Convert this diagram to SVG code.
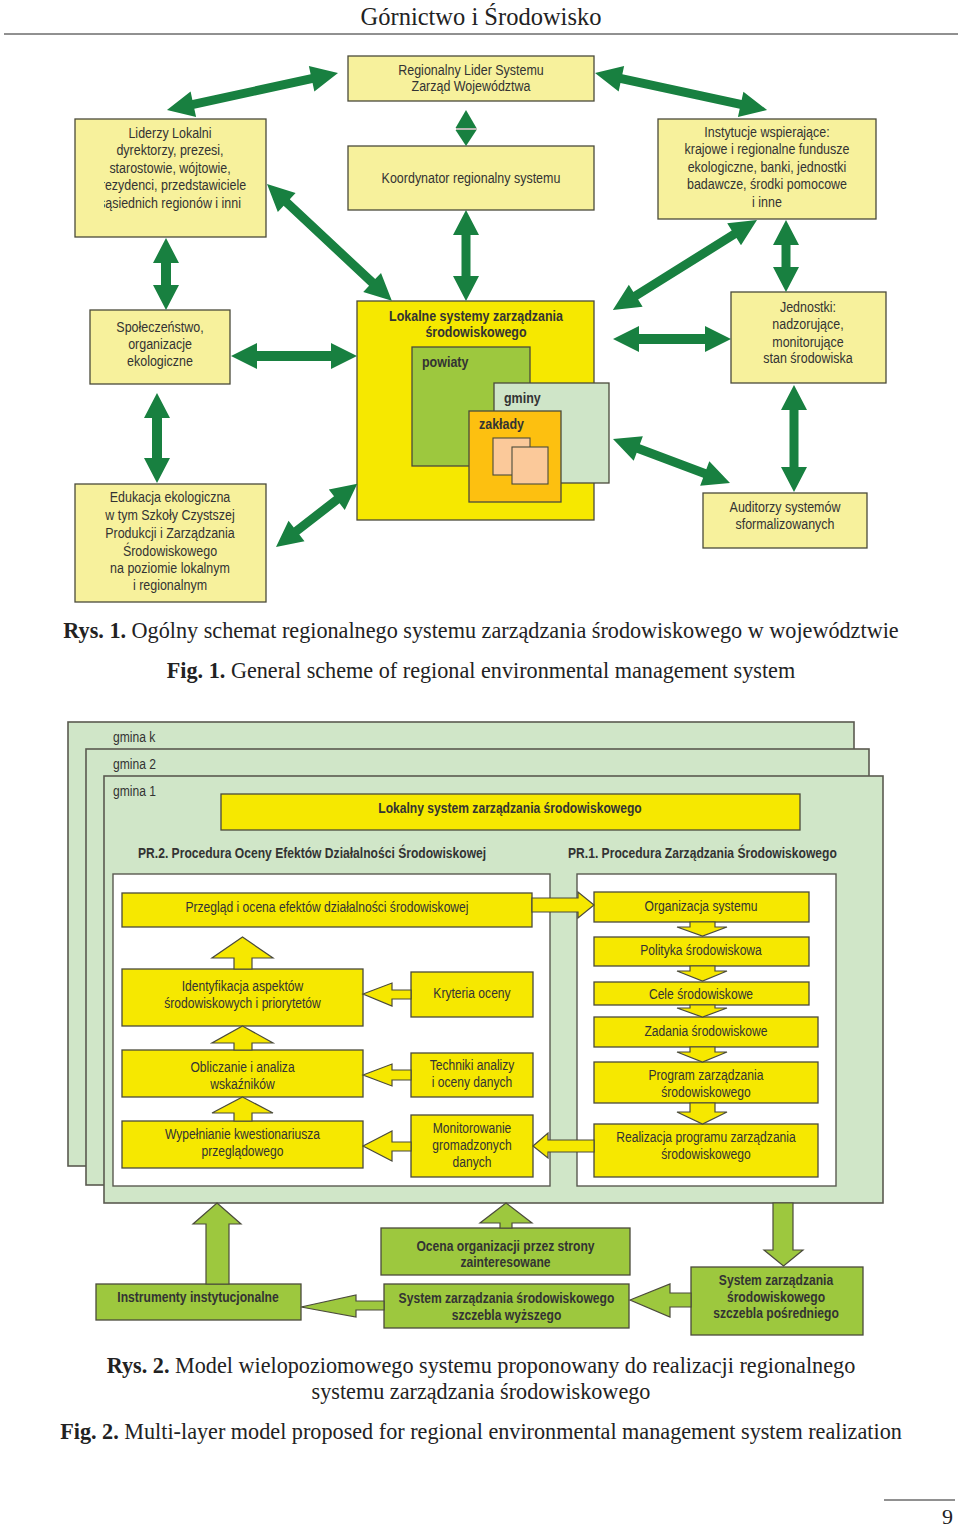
<svg xmlns="http://www.w3.org/2000/svg" width="960" height="1526" viewBox="0 0 960 1526">
<style>
.b1{fill:#F7F19C;stroke:#4b4b3b;stroke-width:1.3}
.yb{fill:#F6E800;stroke:#4b4b3b;stroke-width:1.3}
.gb{fill:#9DC83E;stroke:#4b4b3b;stroke-width:1.3}
.fr{fill:#D0E6C8;stroke:#5a5a50;stroke-width:1.6}
.wp{fill:#FFFFFF;stroke:#5a5a50;stroke-width:1.4}
.t{font-family:"Liberation Sans",Arial,sans-serif;font-size:14.5px;fill:#333}
.c{text-anchor:middle}
.bd{font-weight:bold}
.cap{font-family:"Liberation Serif","Times New Roman",serif;font-size:22.2px;fill:#222}
.arr{fill:#188040}
.ya{fill:#F6E800;stroke:#4b4b3b;stroke-width:1.2}
.ga{fill:#9DC83E;stroke:#4b4b3b;stroke-width:1.2}
</style>
<defs>
<clipPath id="clipLid"><rect x="104" y="119" width="160" height="118"/></clipPath>
</defs>
<rect width="960" height="1526" fill="#FFFFFF"/>
<text class="cap c" x="481" y="25" style="font-size:24.5px">Górnictwo i Środowisko</text>
<line x1="4" y1="34" x2="958" y2="34" stroke="#222" stroke-width="1"/>

<!-- Figure 1 nodes -->
<g id="lokalne">
<rect class="yb" x="357" y="301" width="237" height="219"/>
<g transform="matrix(0.86,0,0,1,66.64,0)">
<text class="t c bd" x="476" y="321">Lokalne systemy zarządzania</text>
<text class="t c bd" x="476" y="337">środowiskowego</text>
</g>
</g>
<g id="powiaty">
<rect x="412" y="347" width="118" height="119" fill="#9DC83E" stroke="#4b4b3b" stroke-width="1.3"/>
<text class="t bd" x="422" y="367" transform="matrix(0.86,0,0,1,59.08,0)">powiaty</text>
</g>
<g id="gminy">
<rect x="494" y="383" width="115" height="100" fill="#CFE5C8" stroke="#4b4b3b" stroke-width="1.3"/>
<text class="t bd" x="504" y="403" transform="matrix(0.86,0,0,1,70.56,0)">gminy</text>
</g>
<g id="zaklady">
<rect x="469" y="411" width="92" height="91" fill="#FDC010" stroke="#4b4b3b" stroke-width="1.3"/>
<text class="t bd" x="479" y="429" transform="matrix(0.86,0,0,1,67.06,0)">zakłady</text>
<rect x="493" y="438" width="37" height="37" fill="#FBC99A" stroke="#4b4b3b" stroke-width="1.1"/>
<rect x="512" y="447" width="36" height="37" fill="#FBC99A" stroke="#4b4b3b" stroke-width="1.1"/>
</g>
<g id="regionalny">
<rect class="b1" x="348" y="56" width="246" height="45"/>
<g transform="matrix(0.86,0,0,1,65.94,0)">
<text class="t c" x="471" y="75">Regionalny Lider Systemu</text>
<text class="t c" x="471" y="91">Zarząd Województwa</text>
</g>
</g>
<g id="liderzy">
<rect class="b1" x="75" y="119" width="191" height="118"/>
<g clip-path="url(#clipLid)">
<g transform="matrix(0.86,0,0,1,23.8,0)">
<text class="t c" x="170" y="138">Liderzy Lokalni</text>
<text class="t c" x="170" y="155">dyrektorzy, prezesi,</text>
<text class="t c" x="170" y="173">starostowie, wójtowie,</text>
<text class="t c" x="170" y="190">prezydenci, przedstawiciele</text>
<text class="t c" x="170" y="208">sąsiednich regionów i inni</text>
</g>
</g>
</g>
<g id="koordynator">
<rect class="b1" x="348" y="146" width="246" height="64"/>
<text class="t c" x="471" y="183" transform="matrix(0.86,0,0,1,65.94,0)">Koordynator regionalny systemu</text>
</g>
<g id="instytucje">
<rect class="b1" x="658" y="119" width="218" height="100"/>
<g transform="matrix(0.86,0,0,1,107.38,0)">
<text class="t c" x="767" y="137">Instytucje wspierające:</text>
<text class="t c" x="767" y="154">krajowe i regionalne fundusze</text>
<text class="t c" x="767" y="172">ekologiczne, banki, jednostki</text>
<text class="t c" x="767" y="189">badawcze, środki pomocowe</text>
<text class="t c" x="767" y="207">i inne</text>
</g>
</g>
<g id="spoleczenstwo">
<rect class="b1" x="90" y="310" width="140" height="74"/>
<g transform="matrix(0.86,0,0,1,22.4,0)">
<text class="t c" x="160" y="332">Społeczeństwo,</text>
<text class="t c" x="160" y="349">organizacje</text>
<text class="t c" x="160" y="366">ekologiczne</text>
</g>
</g>
<g id="jednostki">
<rect class="b1" x="731" y="292" width="155" height="91"/>
<g transform="matrix(0.86,0,0,1,113.12,0)">
<text class="t c" x="808" y="312">Jednostki:</text>
<text class="t c" x="808" y="329">nadzorujące,</text>
<text class="t c" x="808" y="347">monitorujące</text>
<text class="t c" x="808" y="363">stan środowiska</text>
</g>
</g>
<g id="edukacja">
<rect class="b1" x="75" y="484" width="191" height="118"/>
<g transform="matrix(0.86,0,0,1,23.8,0)">
<text class="t c" x="170" y="502">Edukacja ekologiczna</text>
<text class="t c" x="170" y="520">w tym Szkoły Czystszej</text>
<text class="t c" x="170" y="538">Produkcji i Zarządzania</text>
<text class="t c" x="170" y="556">Środowiskowego</text>
<text class="t c" x="170" y="573">na poziomie lokalnym</text>
<text class="t c" x="170" y="590">i regionalnym</text>
</g>
</g>
<g id="auditorzy">
<rect class="b1" x="703" y="493" width="164" height="55"/>
<g transform="matrix(0.86,0,0,1,109.9,0)">
<text class="t c" x="785" y="512">Auditorzy systemów</text>
<text class="t c" x="785" y="529">sformalizowanych</text>
</g>
</g>

<!-- Figure 1 connectors -->
<g id="connectors-fig1" class="arr">
<polygon points="0,0 27,-13 27,-4.5 148,-4.5 148,-13 175,0 148,13 148,4.5 27,4.5 27,13" transform="translate(338,73) rotate(167.79)"/>
<polygon points="0,0 27,-13 27,-4.5 149,-4.5 149,-13 176,0 149,13 149,4.5 27,4.5 27,13" transform="translate(595,73) rotate(12.14)"/>
<polygon points="0,0 27,-13 27,-4.5 144,-4.5 144,-13 171,0 144,13 144,4.5 27,4.5 27,13" transform="translate(267,184) rotate(43.11)"/>
<polygon points="0,0 27,-13 27,-4.5 143,-4.5 143,-13 170,0 143,13 143,4.5 27,4.5 27,13" transform="translate(757,220) rotate(148)"/>
<polygon points="0,0 26,-13 26,-4.5 77,-4.5 77,-13 103,0 77,13 77,4.5 26,4.5 26,13" transform="translate(276,547) rotate(-37.87)"/>
<polygon points="0,0 27,-13 27,-4.5 98,-4.5 98,-13 125,0 98,13 98,4.5 27,4.5 27,13" transform="translate(613,439) rotate(20.61)"/>
<polygon points="0,0 25,-13 25,-5 47,-5 47,-13 72,0 47,13 47,5 25,5 25,13" transform="translate(166,238) rotate(90)"/>
<polygon points="0,0 25,-13 25,-4.5 66,-4.5 66,-13 91,0 66,13 66,4.5 25,4.5 25,13" transform="translate(466,210) rotate(90)"/>
<polygon points="0,0 25,-13 25,-4.5 47,-4.5 47,-13 72,0 47,13 47,4.5 25,4.5 25,13" transform="translate(786,220) rotate(90)"/>
<polygon points="0,0 25,-13 25,-5 65,-5 65,-13 90,0 65,13 65,5 25,5 25,13" transform="translate(157,393) rotate(90)"/>
<polygon points="0,0 25,-13 25,-4.5 82,-4.5 82,-13 107,0 82,13 82,4.5 25,4.5 25,13" transform="translate(794,385) rotate(90)"/>
<polygon points="0,0 26,-13 26,-5 100,-5 100,-13 126,0 100,13 100,5 26,5 26,13" transform="translate(231,356)"/>
<polygon points="0,0 26,-13 26,-5 92,-5 92,-13 118,0 92,13 92,5 26,5 26,13" transform="translate(613,339)"/>
<polygon points="466,110 476.5,128 455.5,128"/>
<polygon points="455.5,130 476.5,130 466,146"/>
<line x1="456" y1="129" x2="477" y2="129" stroke="#8a8a80" stroke-width="1.2"/>
</g>

<text class="cap c" x="481" y="638"><tspan font-weight="bold">Rys. 1.</tspan> Ogólny schemat regionalnego systemu zarządzania środowiskowego w województwie</text>
<text class="cap c" x="481" y="678"><tspan font-weight="bold">Fig. 1.</tspan> General scheme of regional environmental management system</text>

<!-- Figure 2 -->
<g id="gmina-k">
<rect class="fr" x="68" y="722" width="786" height="444"/>
<text class="t" x="113" y="742" transform="matrix(0.835,0,0,1,18.645,0)">gmina k</text>
</g>
<g id="gmina-2">
<rect class="fr" x="86" y="749" width="783" height="436"/>
<text class="t" x="113" y="769" transform="matrix(0.835,0,0,1,18.645,0)">gmina 2</text>
</g>
<g id="gmina-1">
<rect class="fr" x="104" y="776" width="779" height="427"/>
<text class="t" x="113" y="796" transform="matrix(0.835,0,0,1,18.645,0)">gmina 1</text>
</g>
<g id="lokalny-system">
<rect class="yb" x="221" y="794" width="579" height="36"/>
<text class="t c bd" x="510" y="813" transform="matrix(0.835,0,0,1,84.15,0)">Lokalny system zarządzania środowiskowego</text>
</g>
<g id="pr2">
<text class="t bd" x="138" y="858" transform="matrix(0.835,0,0,1,22.77,0)">PR.2. Procedura Oceny Efektów Działalności Środowiskowej</text>
<rect class="wp" x="113" y="874" width="437" height="312"/>
</g>
<g id="pr1">
<text class="t bd" x="568" y="858" transform="matrix(0.835,0,0,1,93.72,0)">PR.1. Procedura Zarządzania Środowiskowego</text>
<rect class="wp" x="577" y="874" width="259" height="312"/>
</g>
<g id="przeglad">
<rect class="yb" x="122" y="893" width="410" height="34"/>
<text class="t c" x="327" y="912" transform="matrix(0.835,0,0,1,53.955,0)">Przegląd i ocena efektów działalności środowiskowej</text>
</g>
<g id="identyfikacja">
<rect class="yb" x="122" y="969" width="241" height="57"/>
<g transform="matrix(0.835,0,0,1,40.0125,0)">
<text class="t c" x="242.5" y="991">Identyfikacja aspektów</text>
<text class="t c" x="242.5" y="1008">środowiskowych i priorytetów</text>
</g>
</g>
<g id="kryteria">
<rect class="yb" x="411" y="972" width="122" height="45"/>
<text class="t c" x="472" y="998" transform="matrix(0.835,0,0,1,77.88,0)">Kryteria oceny</text>
</g>
<g id="obliczanie">
<rect class="yb" x="122" y="1050" width="241" height="47"/>
<g transform="matrix(0.835,0,0,1,40.0125,0)">
<text class="t c" x="242.5" y="1072">Obliczanie i analiza</text>
<text class="t c" x="242.5" y="1089">wskaźników</text>
</g>
</g>
<g id="techniki">
<rect class="yb" x="411" y="1053" width="122" height="44"/>
<g transform="matrix(0.835,0,0,1,77.88,0)">
<text class="t c" x="472" y="1070">Techniki analizy</text>
<text class="t c" x="472" y="1087">i oceny danych</text>
</g>
</g>
<g id="wypelnianie">
<rect class="yb" x="122" y="1121" width="241" height="47"/>
<g transform="matrix(0.835,0,0,1,40.0125,0)">
<text class="t c" x="242.5" y="1139">Wypełnianie kwestionariusza</text>
<text class="t c" x="242.5" y="1156">przeglądowego</text>
</g>
</g>
<g id="monitorowanie">
<rect class="yb" x="411" y="1115" width="122" height="62"/>
<g transform="matrix(0.835,0,0,1,77.88,0)">
<text class="t c" x="472" y="1133">Monitorowanie</text>
<text class="t c" x="472" y="1150">gromadzonych</text>
<text class="t c" x="472" y="1167">danych</text>
</g>
</g>
<g id="organizacja">
<rect class="yb" x="594" y="892" width="215" height="30"/>
<text class="t c" x="701" y="911" transform="matrix(0.835,0,0,1,115.665,0)">Organizacja systemu</text>
</g>
<g id="polityka">
<rect class="yb" x="594" y="937" width="215" height="29"/>
<text class="t c" x="701" y="955" transform="matrix(0.835,0,0,1,115.665,0)">Polityka środowiskowa</text>
</g>
<g id="cele">
<rect class="yb" x="594" y="982" width="215" height="23"/>
<text class="t c" x="701" y="999" transform="matrix(0.835,0,0,1,115.665,0)">Cele środowiskowe</text>
</g>
<g id="zadania">
<rect class="yb" x="594" y="1017" width="224" height="30"/>
<text class="t c" x="706" y="1036" transform="matrix(0.835,0,0,1,116.49,0)">Zadania środowiskowe</text>
</g>
<g id="program">
<rect class="yb" x="594" y="1062" width="224" height="41"/>
<g transform="matrix(0.835,0,0,1,116.49,0)">
<text class="t c" x="706" y="1080">Program zarządzania</text>
<text class="t c" x="706" y="1097">środowiskowego</text>
</g>
</g>
<g id="realizacja">
<rect class="yb" x="594" y="1124" width="224" height="53"/>
<g transform="matrix(0.835,0,0,1,116.49,0)">
<text class="t c" x="706" y="1142">Realizacja programu zarządzania</text>
<text class="t c" x="706" y="1159">środowiskowego</text>
</g>
</g>
<g id="instrumenty">
<rect class="gb" x="96" y="1284" width="205" height="36"/>
<text class="t c bd" x="198" y="1302" transform="matrix(0.835,0,0,1,32.67,0)">Instrumenty instytucjonalne</text>
</g>
<g id="ocena">
<rect class="gb" x="381" y="1228" width="249" height="47"/>
<g transform="matrix(0.835,0,0,1,83.4075,0)">
<text class="t c bd" x="505.5" y="1251">Ocena organizacji przez strony</text>
<text class="t c bd" x="505.5" y="1267">zainteresowane</text>
</g>
</g>
<g id="system-wyzszy">
<rect class="gb" x="384" y="1284" width="245" height="44"/>
<g transform="matrix(0.835,0,0,1,83.5725,0)">
<text class="t c bd" x="506.5" y="1303">System zarządzania środowiskowego</text>
<text class="t c bd" x="506.5" y="1320">szczebla wyższego</text>
</g>
</g>
<g id="system-posredni">
<rect class="gb" x="691" y="1267" width="172" height="68"/>
<g transform="matrix(0.835,0,0,1,128.04,0)">
<text class="t c bd" x="776" y="1285">System zarządzania</text>
<text class="t c bd" x="776" y="1302">środowiskowego</text>
<text class="t c bd" x="776" y="1318">szczebla pośredniego</text>
</g>
</g>

<!-- Figure 2 connectors -->
<g id="connectors-fig2">
<polygon class="ya" points="532,898 578,898 578,892 594,905 578,918 578,912 532,912"/>
<polygon class="ya" points="242.5,937 273,958 252,958 252,969 234,969 234,958 212,958"/>
<polygon class="ya" points="242.5,1026 273,1043 252,1043 252,1050 234,1050 234,1043 212,1043"/>
<polygon class="ya" points="242.5,1097 273,1113 252,1113 252,1121 234,1121 234,1113 212,1113"/>
<polygon class="ya" points="363,994 392,983 392,990 411,990 411,999 392,999 392,1006"/>
<polygon class="ya" points="363,1075 392,1064 392,1070 411,1070 411,1080 392,1080 392,1086"/>
<polygon class="ya" points="363,1146 392,1131 392,1142 411,1142 411,1151 392,1151 392,1161"/>
<polygon class="ya" points="533,1146 548,1133 548,1140 594,1140 594,1152 548,1152 548,1158"/>
<polygon class="ya" points="690,922 715,922 715,927 727,927 702.5,936 677,927 690,927"/>
<polygon class="ya" points="690,966 715,966 715,971 727,971 702.5,981 677,971 690,971"/>
<polygon class="ya" points="690,1005 715,1005 715,1008 727,1008 702.5,1017 677,1008 690,1008"/>
<polygon class="ya" points="690,1047 715,1047 715,1052 727,1052 702.5,1062 677,1052 690,1052"/>
<polygon class="ya" points="690,1103 715,1103 715,1112 727,1112 702.5,1124 677,1112 690,1112"/>
<polygon class="ga" points="217,1203 241,1224 229,1224 229,1284 206,1284 206,1224 193,1224"/>
<polygon class="ga" points="506,1203 532,1223 512,1223 512,1228 500,1228 500,1223 480,1223"/>
<polygon class="ga" points="773,1203 793,1203 793,1250 803,1250 783.5,1266 764,1250 773,1250"/>
<polygon class="ga" points="301,1307 356,1295 356,1301 384,1301 384,1310 356,1310 356,1317"/>
<polygon class="ga" points="630,1300 670,1284 670,1293 691,1293 691,1307 670,1307 670,1317"/>
</g>

<text class="cap c" x="481" y="1373"><tspan font-weight="bold">Rys. 2.</tspan> Model wielopoziomowego systemu proponowany do realizacji regionalnego</text>
<text class="cap c" x="481" y="1399">systemu zarządzania środowiskowego</text>
<text class="cap c" x="481" y="1439"><tspan font-weight="bold">Fig. 2.</tspan> Multi-layer model proposed for regional environmental management system realization</text>

<line x1="884" y1="1500" x2="955" y2="1500" stroke="#222" stroke-width="1"/>
<text class="cap" x="942" y="1524" style="font-size:22px">9</text>
</svg>
